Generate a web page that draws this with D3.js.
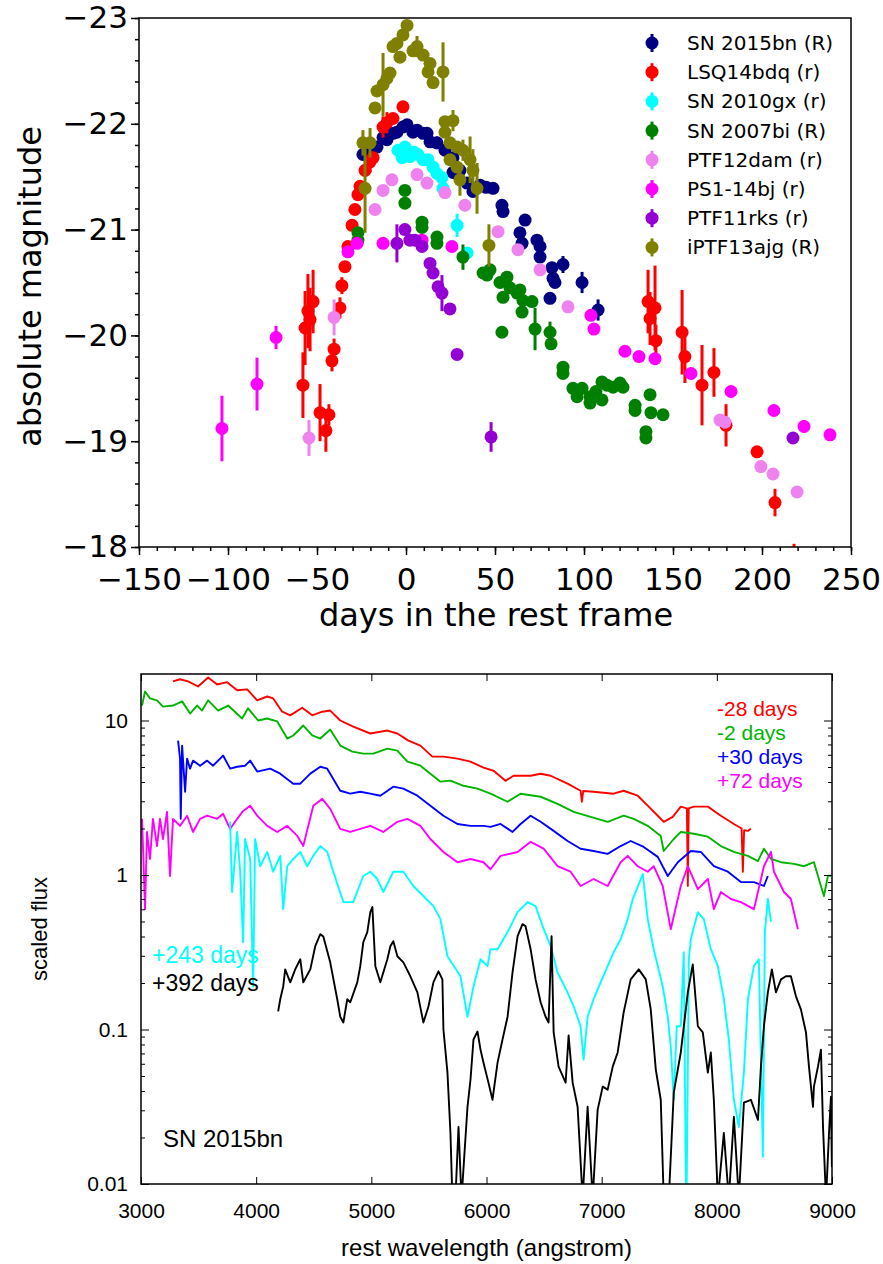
<!DOCTYPE html>
<html>
<head>
<meta charset="utf-8">
<script src="https://cdn.jsdelivr.net/npm/d3@7"></script>
<style>
body { margin: 0; background: #fff; }
.lc text { font-family: "DejaVu Sans", sans-serif; fill: #000; }
.sp text { font-family: "Liberation Sans", Arial, sans-serif; }
</style>
</head>
<body>
<div id="chart"></div>
<script>
// ---- light curves: [day, abs mag, error] ----
let sn2015bn = [[-24.2,-21.71,.03],[-20.2,-21.78,.03],[-16.3,-21.78,.04],[-12.9,-21.87,.03],[-10.7,-21.85,.04],[-7.3,-21.91,.03],[-5.1,-21.92,.04],[-1.7,-21.97,.03],[0.6,-21.99,.05],[3.9,-21.92,.04],[6.2,-21.94,.04],[9.6,-21.91,.05],[11.8,-21.91,.04],[13.5,-21.83,.03],[17.4,-21.82,.06],[21.9,-21.75,.04],[26.4,-21.68,.04],[26.4,-21.54,.03],[30.3,-21.56,.03],[34.3,-21.44,.04],[37.6,-21.36,.03],[41.6,-21.42,.03],[45.0,-21.40,.03],[48.9,-21.39,.04],[53.9,-21.23,.05],[54.5,-21.17,.04],[64.0,-20.97,.03],[65.2,-20.87,.05],[66.9,-21.09,.04],[73.6,-20.90,.04],[75.3,-20.84,.03],[75.3,-20.74,.04],[82.0,-20.64,.04],[82.6,-20.54,.05],[83.7,-20.50,.04],[80.9,-20.35,.04],[88.2,-20.67,.08],[98.9,-20.50,.1],[107.9,-20.24,.1]];
let lsq14bdq = [[-57.9,-19.53,.31],[-56.7,-20.07,.35],[-55.1,-20.23,.35],[-53.9,-20.15,.3],[-52.2,-20.32,.3],[-48.3,-19.27,.27],[-45.0,-19.10,.2],[-43.3,-19.25,.1],[-41.6,-19.76,.1],[-40.4,-19.87,.1],[-37.1,-20.26,.1],[-36.0,-20.47,.08],[-34.3,-20.65,.05],[-32.6,-20.84,.04],[-30.3,-21.04,.04],[-28.7,-21.19,.05],[-27.0,-21.33,.05],[-25.8,-21.41,.05],[-23.0,-21.56,.06],[-20.2,-21.64,.1],[-18.5,-21.68,.05],[-12.9,-21.97,.1],[-10.7,-22.01,.1],[-7.3,-22.05,.05],[-1.7,-22.16,.04],[136.0,-20.32,.3],[137.1,-20.16,.25],[139.9,-20.26,.4],[140.4,-19.95,.15],[155.1,-20.03,.4],[156.7,-19.80,.25],[166.3,-19.53,.38],[173.0,-19.65,.23],[179.8,-19.15,.2],[197.2,-18.90,.05],[207.3,-18.42,.13],[218.0,-17.88,.15]];
let sn2010gx = [[-4.5,-21.75,.03],[-2.2,-21.68,.03],[-0.6,-21.78,.03],[2.2,-21.69,.04],[4.5,-21.73,.03],[6.7,-21.71,.03],[9.6,-21.66,.05],[12.4,-21.66,.03],[15.2,-21.59,.03],[17.4,-21.53,.03],[20.2,-21.49,.03],[20.8,-21.39,.03],[28.7,-21.04,.11],[34.3,-20.78,.05]];
let sn2007bi = [[-27.0,-20.97,.03],[-27.0,-20.90,.03],[-0.6,-21.37,.03],[-0.6,-21.25,.03],[9.0,-21.07,.03],[9.0,-21.02,.03],[17.4,-20.93,.03],[17.4,-20.87,.03],[32.0,-20.74,.12],[43.3,-20.59,.03],[45.5,-20.57,.03],[47.2,-20.62,.03],[52.8,-20.50,.03],[54.5,-20.36,.03],[56.7,-20.55,.03],[58.4,-20.45,.03],[62.4,-20.40,.03],[64.0,-20.43,.03],[65.7,-20.33,.03],[65.2,-20.22,.04],[70.8,-20.32,.03],[53.9,-20.03,.04],[72.5,-20.06,.2],[80.9,-20.03,.1],[81.5,-19.92,.03],[88.2,-19.70,.04],[88.2,-19.64,.04],[93.8,-19.50,.03],[96.1,-19.42,.03],[98.9,-19.50,.03],[103.4,-19.42,.03],[103.4,-19.36,.03],[106.7,-19.47,.03],[110.1,-19.56,.04],[110.1,-19.39,.03],[112.9,-19.53,.03],[116.3,-19.51,.03],[120.2,-19.55,.03],[121.9,-19.51,.03],[128.7,-19.34,.04],[128.7,-19.29,.04],[134.8,-19.09,.04],[134.8,-19.03,.04],[137.1,-19.44,.04],[137.6,-19.27,.04],[144.4,-19.25,.04]];
let ptf12dam = [[-54.5,-19.03,.17],[-40.4,-20.17,.17],[-17.4,-21.19,.03],[-12.9,-21.37,.03],[-7.9,-21.47,.03],[6.2,-21.52,.03],[11.8,-21.44,.03],[21.9,-21.35,.03],[33.1,-21.23,.03],[51.7,-20.98,.03],[62.9,-20.81,.03],[75.3,-20.62,.03],[91.0,-20.27,.03],[176.4,-19.20,.03],[179.2,-19.18,.03],[199.4,-18.76,.03],[206.2,-18.69,.03],[219.7,-18.52,.03]];
let ps1_14bj = [[-103.4,-19.12,.31],[-83.7,-19.54,.25],[-73.0,-19.98,.11],[-32.6,-20.79,.03],[-27.5,-20.87,.03],[-12.9,-20.87,.03],[9.0,-20.90,.03],[25.8,-20.84,.03],[103.9,-20.19,.03],[105.6,-20.06,.03],[123.0,-19.85,.03],[130.9,-19.80,.03],[139.9,-19.78,.05],[160.1,-19.64,.03],[182.6,-19.47,.03],[206.7,-19.29,.03],[223.6,-19.14,.06],[238.2,-19.06,.03]];
let ptf11rks = [[-5.1,-20.87,.18],[-0.6,-21.00,.03],[2.2,-20.90,.03],[5.1,-20.90,.03],[9.0,-20.84,.03],[13.5,-20.68,.03],[15.2,-20.59,.03],[18.0,-20.46,.03],[20.2,-20.40,.17],[24.7,-20.25,.03],[28.7,-19.82,.04],[47.8,-19.04,.14],[217.4,-19.03,.03]];
let iptf13ajg = [[-23.0,-21.39,.42],[-24.2,-21.82,.12],[-20.2,-21.82,.14],[-17.4,-22.15,.05],[-16.3,-22.31,.05],[-12.9,-22.37,.3],[-10.7,-22.43,.05],[-9.0,-22.48,.05],[-7.3,-22.73,.05],[-5.1,-22.76,.05],[-3.4,-22.63,.04],[-1.7,-22.84,.04],[0.6,-22.93,.05],[3.9,-22.69,.05],[6.2,-22.73,.1],[9.6,-22.65,.05],[13.5,-22.57,.05],[12.4,-22.49,.05],[15.2,-22.39,.05],[20.8,-22.49,.28],[21.9,-22.02,.05],[26.4,-22.03,.1],[21.9,-21.92,.05],[24.7,-21.82,.05],[28.7,-21.78,.05],[32.0,-21.75,.1],[24.7,-21.66,.05],[28.7,-21.59,.05],[36.0,-21.66,.22],[30.3,-21.47,.15],[37.6,-21.56,.2],[39.9,-21.39,.24],[46.6,-20.85,.2]];

let lcNames = ['SN 2015bn (R)', 'LSQ14bdq (r)', 'SN 2010gx (r)', 'SN 2007bi (R)', 'PTF12dam (r)', 'PS1-14bj (r)', 'PTF11rks (r)', 'iPTF13ajg (R)'];
let lcColors = ['#000080', '#ff0000', '#00ffff', '#008000', '#ee82ee', '#ff00ff', '#9400d3', '#808000'];
let lcData = [sn2015bn, lsq14bdq, sn2010gx, sn2007bi, ptf12dam, ps1_14bj, ptf11rks, iptf13ajg];

// ---- spectra: [wavelength, scaled flux] ----
let specM28 = [[3278,17.9],[3339,18.5],[3409,17.9],[3496,16.6],[3583,19.0],[3661,17.1],[3748,17.7],[3835,15.7],[3922,15.9],[4009,13.5],[4096,14.3],[4148,13.9],[4226,11.4],[4296,10.8],[4400,12.1],[4487,10.8],[4574,11.4],[4643,11.6],[4730,10.0],[4843,9.14],[4991,8.24],[5139,8.61],[5226,8.24],[5322,7.41],[5426,6.88],[5530,5.84],[5626,5.84],[5748,5.67],[5861,5.42],[5974,4.95],[6061,4.73],[6165,4.07],[6235,4.39],[6383,4.39],[6470,4.52],[6557,4.39],[6704,3.90],[6817,3.51],[6828,2.98],[6840,3.50],[6930,3.46],[7104,3.36],[7191,3.51],[7313,3.26],[7400,2.81],[7487,2.42],[7539,2.21],[7617,2.38],[7687,2.77],[7740,2.70],[7748,0.85],[7756,2.70],[7800,2.77],[7922,2.77],[8035,2.42],[8148,2.14],[8215,2.00],[8226,1.05],[8237,1.95],[8270,1.93],[8296,1.99]];
let specM2 = [[3009,12.5],[3035,15.4],[3078,13.9],[3139,13.5],[3191,12.3],[3278,12.5],[3357,13.3],[3426,11.1],[3487,12.5],[3530,11.6],[3583,13.5],[3670,11.6],[3757,12.5],[3878,10.3],[3930,12.0],[4017,10.0],[4096,10.3],[4183,9.86],[4270,7.64],[4322,8.00],[4409,9.28],[4487,8.00],[4557,7.64],[4643,8.74],[4730,6.88],[4835,6.29],[4930,6.10],[5017,6.10],[5139,6.58],[5226,6.38],[5313,5.42],[5426,5.10],[5600,4.02],[5687,4.08],[5800,3.78],[5922,3.62],[6035,3.36],[6183,2.98],[6296,3.36],[6470,3.21],[6617,2.89],[6757,2.56],[6904,2.38],[7052,2.21],[7191,2.42],[7278,2.31],[7400,2.08],[7513,1.79],[7539,1.43],[7626,1.71],[7687,1.90],[7800,1.85],[7922,1.77],[8035,1.54],[8148,1.41],[8270,1.33],[8357,1.23],[8409,1.48],[8470,1.27],[8557,1.21],[8670,1.18],[8757,1.14],[8843,1.21],[8904,0.849],[8930,0.731],[8965,0.99],[8991,0.99]];
let specP30 = [[3322,7.41],[3339,5.67],[3345,2.31],[3357,6.88],[3383,3.46],[3400,5.67],[3426,4.88],[3452,5.50],[3513,5.10],[3574,5.50],[3626,5.10],[3713,5.93],[3774,4.88],[3835,5.02],[3904,5.10],[3948,5.50],[4009,4.67],[4122,4.88],[4209,4.53],[4322,3.90],[4383,3.90],[4470,4.53],[4557,5.02],[4617,4.88],[4730,3.51],[4817,3.36],[4904,3.46],[4991,3.36],[5078,3.26],[5191,3.73],[5278,3.62],[5400,3.26],[5513,2.81],[5626,2.42],[5748,2.14],[5861,2.08],[5974,2.08],[6035,2.05],[6122,2.14],[6226,1.90],[6296,2.14],[6383,2.42],[6470,2.21],[6583,1.93],[6704,1.66],[6817,1.48],[6930,1.43],[7052,1.37],[7165,1.54],[7252,1.66],[7365,1.52],[7487,1.31],[7574,0.985],[7661,1.21],[7774,1.43],[7861,1.41],[7974,1.14],[8096,1.05],[8209,0.90],[8322,0.90],[8409,0.849],[8443,0.985]];
let specP72 = [[3009,2.31],[3017,1.54],[3035,0.601],[3052,1.90],[3078,1.27],[3104,2.31],[3139,1.54],[3165,2.31],[3191,1.71],[3226,2.56],[3252,0.985],[3278,2.31],[3339,2.08],[3400,2.42],[3452,1.90],[3513,2.31],[3574,2.42],[3661,2.31],[3713,2.49],[3774,1.99],[3835,2.31],[3887,2.60],[3948,2.81],[4009,2.42],[4096,2.08],[4183,1.90],[4270,2.08],[4357,1.79],[4409,1.54],[4496,2.81],[4574,3.11],[4643,2.68],[4730,1.99],[4817,1.90],[4904,1.99],[4991,2.08],[5104,1.90],[5226,2.21],[5313,2.31],[5426,2.08],[5513,1.71],[5626,1.41],[5748,1.21],[5861,1.27],[5974,1.21],[6035,1.09],[6122,1.33],[6270,1.41],[6383,1.64],[6496,1.48],[6617,1.14],[6730,1.05],[6817,0.849],[6930,0.942],[7052,0.849],[7165,1.21],[7226,1.33],[7313,1.14],[7400,1.05],[7452,1.14],[7530,0.849],[7600,0.446],[7687,0.849],[7748,1.14],[7835,0.811],[7922,0.942],[7974,0.601],[8035,0.776],[8122,0.699],[8209,0.668],[8322,0.601],[8409,1.14],[8470,1.41],[8496,1.05],[8583,0.776],[8643,0.699],[8704,0.446]];
let specP243 = [[3774,2.21],[3791,0.776],[3835,1.90],[3861,1.05],[3887,0.367],[3904,1.71],[3948,1.27],[3974,0.19],[3991,1.71],[4035,1.14],[4096,1.41],[4148,1.05],[4209,1.33],[4235,0.601],[4270,1.14],[4322,1.27],[4383,1.41],[4443,1.14],[4496,1.33],[4557,1.54],[4617,1.41],[4670,1.05],[4757,0.668],[4843,0.668],[4930,0.985],[4991,1.05],[5052,0.942],[5104,0.776],[5191,1.05],[5278,1.05],[5365,0.849],[5452,0.731],[5539,0.629],[5600,0.518],[5661,0.298],[5774,0.221],[5835,0.121],[5887,0.19],[5948,0.285],[6009,0.257],[6035,0.331],[6096,0.331],[6183,0.427],[6270,0.575],[6322,0.629],[6357,0.668],[6426,0.629],[6487,0.467],[6557,0.346],[6617,0.234],[6704,0.174],[6757,0.141],[6817,0.105],[6843,0.0638],[6878,0.121],[6930,0.157],[6991,0.202],[7052,0.257],[7104,0.316],[7165,0.384],[7226,0.518],[7270,0.699],[7357,1.015],[7400,0.518],[7452,0.331],[7530,0.19],[7574,0.121],[7600,0.0776],[7626,0.0351],[7652,0.105],[7687,0.105],[7713,0.316],[7735,0.005],[7757,0.285],[7774,0.384],[7835,0.575],[7887,0.518],[7948,0.331],[8009,0.257],[8061,0.157],[8104,0.0861],[8148,0.0351],[8191,0.0234],[8235,0.0526],[8270,0.157],[8296,0.202],[8322,0.257],[8365,0.285],[8400,0.015],[8417,0.427],[8443,0.70],[8470,0.50]];
let specP392 = [[4191,0.131],[4209,0.157],[4235,0.19],[4252,0.245],[4296,0.202],[4339,0.245],[4383,0.285],[4409,0.202],[4470,0.245],[4513,0.346],[4557,0.414],[4583,0.40],[4643,0.272],[4704,0.157],[4730,0.121],[4757,0.111],[4791,0.157],[4817,0.15],[4878,0.202],[4904,0.257],[4930,0.367],[4965,0.427],[4991,0.575],[5009,0.62],[5035,0.257],[5078,0.202],[5139,0.285],[5165,0.346],[5191,0.373],[5226,0.298],[5278,0.272],[5339,0.221],[5400,0.174],[5452,0.111],[5496,0.141],[5539,0.202],[5583,0.238],[5617,0.211],[5626,0.10],[5661,0.0526],[5687,0.0214],[5704,0.008],[5730,0.008],[5757,0.0234],[5783,0.008],[5835,0.0316],[5861,0.0473],[5887,0.0861],[5922,0.097],[5948,0.0741],[5974,0.061],[6017,0.0453],[6052,0.0351],[6096,0.061],[6139,0.0861],[6183,0.121],[6226,0.234],[6270,0.402],[6313,0.481],[6339,0.467],[6383,0.331],[6426,0.211],[6470,0.15],[6513,0.121],[6539,0.111],[6565,0.402],[6583,0.0957],[6626,0.0575],[6687,0.0453],[6713,0.0915],[6748,0.0453],[6791,0.0316],[6835,0.008],[6878,0.0316],[6922,0.008],[6965,0.0302],[7009,0.0427],[7052,0.0408],[7096,0.0575],[7139,0.071],[7191,0.129],[7252,0.211],[7322,0.245],[7383,0.211],[7426,0.135],[7470,0.055],[7513,0.0351],[7539,0.008],[7583,0.008],[7626,0.039],[7687,0.071],[7748,0.174],[7791,0.264],[7835,0.105],[7878,0.0957],[7922,0.0526],[7948,0.071],[7974,0.0351],[8009,0.008],[8061,0.0214],[8104,0.008],[8148,0.0272],[8191,0.008],[8235,0.0336],[8296,0.0351],[8357,0.026],[8383,0.0575],[8409,0.105],[8443,0.174],[8478,0.245],[8513,0.174],[8557,0.211],[8600,0.221],[8643,0.221],[8687,0.164],[8730,0.135],[8774,0.0957],[8800,0.0575],[8835,0.0316],[8843,0.0427],[8878,0.0575],[8904,0.0741],[8922,0.0234],[8948,0.008],[8974,0.0214],[8991,0.0367],[8999,0.0129]];

let specLabels = ['-28 days', '-2 days', '+30 days', '+72 days', '+243 days', '+392 days'];
let specColors = ['#ff0000', '#00b400', '#0000ff', '#ff00ff', '#00ffff', '#000000'];
let specData = [specM28, specM2, specP30, specP72, specP243, specP392];

let svg = d3.select('#chart').append('svg')
    .attr('width', 883)
    .attr('height', 1264);

// ================= top panel =================
let p1 = { left: 139, right: 851, top: 18, bottom: 547 };
let x1 = d3.scaleLinear().domain([-150, 250]).range([p1.left, p1.right]);
let y1 = d3.scaleLinear().domain([-23, -18]).range([p1.top, p1.bottom]);
let lc = svg.append('g').attr('class', 'lc');

lcData.forEach(function (series, i) {
    let g = lc.append('g').attr('class', 'series');
    g.selectAll('line')
        .data(series)
        .enter()
        .append('line')
        .attr('x1', d => x1(d[0]))
        .attr('x2', d => x1(d[0]))
        .attr('y1', d => y1(d[1] - d[2]))
        .attr('y2', d => y1(Math.min(d[1] + d[2], -18)))
        .style('stroke', lcColors[i])
        .style('stroke-width', 3);
    g.selectAll('circle')
        .data(series.filter(d => d[1] <= -18))
        .enter()
        .append('circle')
        .attr('cx', d => x1(d[0]))
        .attr('cy', d => y1(d[1]))
        .attr('r', 6.5)
        .style('fill', lcColors[i]);
});

lc.append('rect')
    .attr('x', p1.left).attr('y', p1.top)
    .attr('width', p1.right - p1.left).attr('height', p1.bottom - p1.top)
    .style('fill', 'none').style('stroke', '#000').style('stroke-width', 1.5);

let fmt = d3.format('d');
lc.append('g')
    .attr('transform', 'translate(0,' + p1.bottom + ')')
    .call(d3.axisBottom(x1).tickValues(d3.range(-150, 251, 10)).tickSize(4).tickFormat(''))
    .call(g => g.select('.domain').remove());
lc.append('g')
    .attr('transform', 'translate(0,' + p1.bottom + ')')
    .call(d3.axisBottom(x1).tickValues(d3.range(-150, 251, 50)).tickSize(8).tickPadding(13).tickFormat(fmt))
    .call(g => g.select('.domain').remove())
    .selectAll('text').style('font-size', '31px').style('font-family', '"DejaVu Sans"');
lc.append('g')
    .attr('transform', 'translate(' + p1.left + ',0)')
    .call(d3.axisLeft(y1).tickValues(d3.range(0, 26).map(k => -23 + k * 0.2)).tickSize(4).tickFormat(''))
    .call(g => g.select('.domain').remove());
lc.append('g')
    .attr('transform', 'translate(' + p1.left + ',0)')
    .call(d3.axisLeft(y1).tickValues([-23, -22, -21, -20, -19, -18]).tickSize(8).tickPadding(3).tickFormat(fmt))
    .call(g => g.select('.domain').remove())
    .selectAll('text').style('font-size', '31px').style('font-family', '"DejaVu Sans"');
lc.selectAll('.tick line').style('stroke-width', 1.5);

lc.append('text')
    .attr('x', (p1.left + p1.right) / 2 + 1)
    .attr('y', 626)
    .attr('text-anchor', 'middle')
    .style('font-size', '32px')
    .text('days in the rest frame');
lc.append('text')
    .attr('transform', 'translate(41,' + ((p1.top + p1.bottom) / 2 + 4) + ') rotate(-90)')
    .attr('text-anchor', 'middle')
    .style('font-size', '32px')
    .text('absolute magnitude');

let legend = lc.append('g').attr('class', 'legend');
lcNames.forEach(function (name, i) {
    let cy = 43 + i * 29.2;
    legend.append('line')
        .attr('x1', 652).attr('x2', 652)
        .attr('y1', cy - 9).attr('y2', cy + 9)
        .style('stroke', lcColors[i]).style('stroke-width', 3);
    legend.append('circle')
        .attr('cx', 652).attr('cy', cy).attr('r', 6.5)
        .style('fill', lcColors[i]);
    legend.append('text')
        .attr('x', 687).attr('y', cy + 7)
        .style('font-size', '20px')
        .text(name);
});

// ================= bottom panel =================
let p2 = { left: 141, right: 832, top: 674, bottom: 1184 };
let x2 = d3.scaleLinear().domain([3000, 9000]).range([p2.left, p2.right]);
let y2 = d3.scaleLog().domain([0.01, 20]).range([p2.bottom, p2.top]);
let sp = svg.append('g').attr('class', 'sp');

sp.append('clipPath').attr('id', 'spclip')
    .append('rect')
    .attr('x', p2.left).attr('y', p2.top)
    .attr('width', p2.right - p2.left).attr('height', p2.bottom - p2.top);

let line = d3.line()
    .x(d => x2(d[0]))
    .y(d => y2(d[1]));

let curves = sp.append('g').attr('clip-path', 'url(#spclip)');
specData.forEach(function (s, i) {
    curves.append('path')
        .attr('d', line(s))
        .style('fill', 'none')
        .style('stroke', specColors[i])
        .style('stroke-width', 1.9)
        .style('stroke-linejoin', 'round');
});

let majorY = [0.01, 0.1, 1, 10];
let minorY = [];
[0.01, 0.1, 1, 10].forEach(function (b) {
    for (let k = 2; k <= 9; k++) if (b * k < 20) minorY.push(b * k);
});
let yfmt = d => (d >= 1 ? String(d) : String(+d.toPrecision(1)));

sp.append('g')
    .attr('transform', 'translate(0,' + p2.bottom + ')')
    .call(d3.axisBottom(x2).tickValues(d3.range(3000, 9001, 1000)).tickSizeInner(-7).tickSizeOuter(0).tickPadding(19).tickFormat(d3.format('d')))
    .call(g => g.select('.domain').remove())
    .selectAll('text').style('font-size', '21px');
sp.append('g')
    .attr('transform', 'translate(0,' + p2.top + ')')
    .call(d3.axisTop(x2).tickValues(d3.range(3000, 9001, 1000)).tickSizeInner(-7).tickSizeOuter(0).tickFormat(''))
    .call(g => g.select('.domain').remove());
sp.append('g')
    .attr('transform', 'translate(' + p2.left + ',0)')
    .call(d3.axisLeft(y2).tickValues(majorY).tickSizeInner(-8).tickSizeOuter(0).tickPadding(13).tickFormat(yfmt))
    .call(g => g.select('.domain').remove())
    .selectAll('text').style('font-size', '21px');
sp.append('g')
    .attr('transform', 'translate(' + p2.left + ',0)')
    .call(d3.axisLeft(y2).tickValues(minorY).tickSizeInner(-4).tickSizeOuter(0).tickFormat(''))
    .call(g => g.select('.domain').remove());
sp.append('g')
    .attr('transform', 'translate(' + p2.right + ',0)')
    .call(d3.axisRight(y2).tickValues(majorY).tickSizeInner(-8).tickSizeOuter(0).tickFormat(''))
    .call(g => g.select('.domain').remove());
sp.append('g')
    .attr('transform', 'translate(' + p2.right + ',0)')
    .call(d3.axisRight(y2).tickValues(minorY).tickSizeInner(-4).tickSizeOuter(0).tickFormat(''))
    .call(g => g.select('.domain').remove());
sp.selectAll('.tick line').style('stroke-width', 1);

sp.append('rect')
    .attr('x', p2.left).attr('y', p2.top)
    .attr('width', p2.right - p2.left).attr('height', p2.bottom - p2.top)
    .style('fill', 'none').style('stroke', '#000').style('stroke-width', 1.5);

sp.append('text')
    .attr('x', (p2.left + p2.right) / 2)
    .attr('y', 1256)
    .attr('text-anchor', 'middle')
    .style('font-size', '24px')
    .text('rest wavelength (angstrom)');
sp.append('text')
    .attr('transform', 'translate(47,' + ((p2.top + p2.bottom) / 2) + ') rotate(-90)')
    .attr('text-anchor', 'middle')
    .style('font-size', '22px')
    .text('scaled flux');

let labelPos = [[717, 716], [717, 740], [717, 764], [717, 788], [152, 963], [152, 991]];
let labelSize = ['21px', '21px', '21px', '21px', '23px', '23px'];
specLabels.forEach(function (t, i) {
    sp.append('text')
        .attr('x', labelPos[i][0])
        .attr('y', labelPos[i][1])
        .style('font-size', labelSize[i])
        .style('fill', specColors[i])
        .text(t);
});
sp.append('text')
    .attr('x', 163).attr('y', 1147)
    .style('font-size', '24px')
    .text('SN 2015bn');
</script>
</body>
</html>
